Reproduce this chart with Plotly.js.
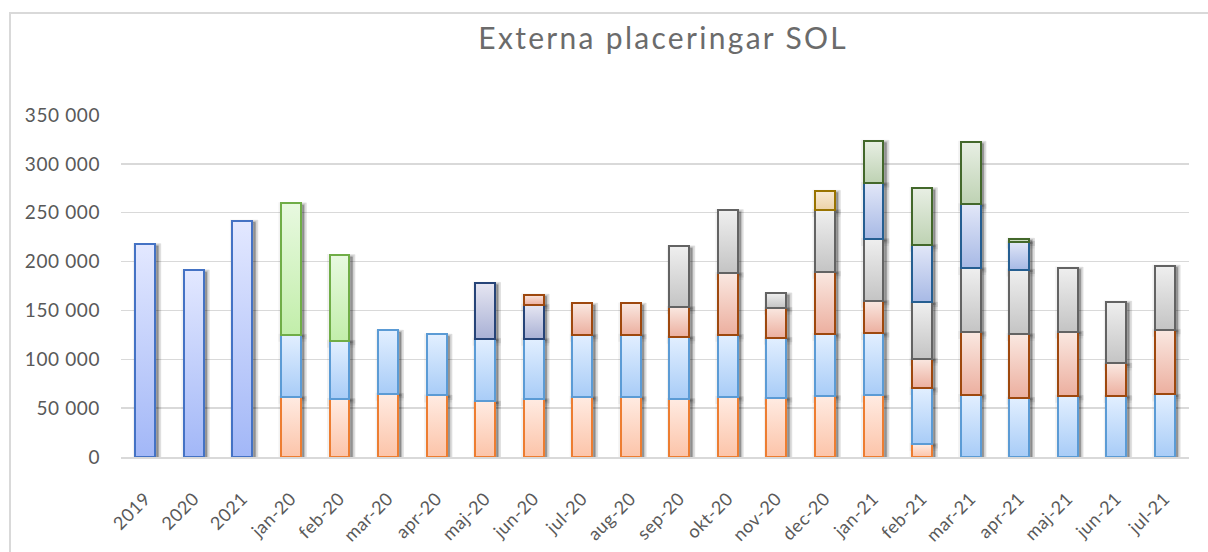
<!DOCTYPE html>
<html>
<head>
<meta charset="utf-8">
<script src="https://cdn.plot.ly/plotly-3.0.1.min.js"></script>
<style>
  html, body { margin: 0; padding: 0; background: #ffffff; overflow: hidden; }
  #chart { width: 1208px; height: 552px; position: absolute; left: 0; top: 0; }
  #frame { position: absolute; left: 9px; top: 12px; width: 1300px; height: 700px;
           border: 2px solid #d9d9d9; pointer-events: none; }
  #chart .gtitle { letter-spacing: 2.3px; }
  #chart .ytick text { letter-spacing: 0.6px; }
  #chart .xtick text { letter-spacing: 0.5px; }
</style>
</head>
<body>
<div id="chart"></div>
<div id="frame"></div>
<script>
// ---- data ----
const categories = ['2019','2020','2021','jan-20','feb-20','mar-20','apr-20','maj-20','jun-20','jul-20','aug-20','sep-20','okt-20','nov-20','dec-20','jan-21','feb-21','mar-21','apr-21','maj-21','jun-21','jul-21'];

const serie1  = [218000,191000,242000,null,null,null,null,null,null,null,null,null,null,null,null,null,null,null,null,null,null,null];
const serie2  = [null,null,null,61600,59300,64700,63000,56900,59300,61400,61400,59300,61400,60300,62400,63000,13300,null,null,null,null,null];
const serie3  = [null,null,null,63400,59600,64800,62400,64100,61700,63700,63700,63700,63600,61700,63400,63800,57300,63400,60600,62700,62400,64000];
const serie4  = [null,null,null,134700,87900,null,null,null,null,null,null,null,null,null,null,null,null,null,null,null,null,null];
const serie5  = [null,null,null,null,null,null,null,57200,34700,null,null,null,null,null,null,null,null,null,null,null,null,null];
const serie6  = [null,null,null,null,null,null,null,null,10600,32100,32100,30400,63400,30700,63700,33000,30000,64400,65200,65700,33300,66200];
const serie7  = [null,null,null,null,null,null,null,null,null,null,null,62300,64500,15000,63400,63400,57600,65500,66000,65500,63400,65700];
const serie8  = [null,null,null,null,null,null,null,null,null,null,null,null,null,null,19700,null,null,null,null,null,null,null];
const serie9  = [null,null,null,null,null,null,null,null,null,null,null,null,null,null,null,57300,59000,65400,28700,null,null,null];
const serie10 = [null,null,null,null,null,null,null,null,null,null,null,null,null,null,null,43200,58000,64000,3000,null,null,null];

const seriesNames = ['Serie 1','Serie 2','Serie 3','Serie 4','Serie 5','Serie 6','Serie 7','Serie 8','Serie 9','Serie 10'];
const seriesValues = [serie1,serie2,serie3,serie4,serie5,serie6,serie7,serie8,serie9,serie10];

// ---- styles ----
const lineColors = ['#4472C4','#ED7D31','#5B9BD5','#70AD47','#264478','#9E480E','#636363','#997300','#255E91','#43682B'];
const gradTop    = ['#E3E8FF','#FFEBE2','#E2EFFF','#E8F9E0','#E6E6F2','#FAE8E1','#EFEFEF','#F8EAD6','#E2E7F8','#E8EFE4'];
const gradBottom = ['#A2B7F7','#FCC4A9','#A8CCF7','#C2EEAA','#A9B1D5','#ECAF9F','#C4C4C4','#ECD2A7','#A7B9E5','#BED2B3'];
const midColors  = ['#C0CDFA','#FDD5C2','#C4DCFB','#D3F3C5','#C8CBE3','#F3CBC0','#DADADA','#F2DDBE','#C4D0EE','#D3E1CC'];

const FONT = 'Lato, "Open Sans", sans-serif';

const data = seriesValues.map((vals, i) => ({
  type: 'bar',
  name: seriesNames[i],
  x: categories,
  y: vals,
  marker: { color: midColors[i], line: { color: lineColors[i], width: 2 } },
  hoverinfo: 'x+y+name'
}));

const layout = {
  width: 1208,
  height: 552,
  barmode: 'stack',
  bargap: 0.59,
  showlegend: false,
  paper_bgcolor: '#ffffff',
  plot_bgcolor: '#ffffff',
  separators: ', ',
  margin: { l: 121, r: 19, t: 115, b: 95 },
  font: { family: FONT, color: '#595959', size: 18 },
  title: {
    text: 'Externa placeringar SOL',
    font: { family: FONT, size: 30, color: '#6b6b6b' },
    x: 0.549, xanchor: 'center',
    y: 0.931, yanchor: 'middle', xref: 'container', yref: 'container'
  },
  xaxis: {
    type: 'category',
    tickangle: -45,
    tickfont: { family: FONT, size: 18, color: '#595959' },
    showgrid: false,
    showline: true, linecolor: '#d9d9d9', linewidth: 2,
    ticks: '',
    ticklabelstandoff: 22,
    zeroline: false
  },
  yaxis: {
    range: [0, 350000],
    dtick: 50000,
    tickformat: ',d',
    tickfont: { family: FONT, size: 19, color: '#595959' },
    showgrid: true, gridcolor: '#d9d9d9', gridwidth: 1.3,
    zeroline: false,
    showline: false,
    ticks: '',
    ticklabelstandoff: 20
  }
};

Plotly.newPlot('chart', data, layout, { displayModeBar: false, staticPlot: true }).then(gd => {
  const svg = gd.querySelector('svg.main-svg');
  const defs = svg.querySelector('defs');
  const ns = 'http://www.w3.org/2000/svg';
  for (let i = 0; i < seriesValues.length; i++) {
    const lg = document.createElementNS(ns, 'linearGradient');
    lg.setAttribute('id', 'barGrad' + i);
    lg.setAttribute('x1', '0'); lg.setAttribute('y1', '0');
    lg.setAttribute('x2', '0'); lg.setAttribute('y2', '1');
    const s1 = document.createElementNS(ns, 'stop');
    s1.setAttribute('offset', '0'); s1.setAttribute('stop-color', gradTop[i]);
    const s2 = document.createElementNS(ns, 'stop');
    s2.setAttribute('offset', '1'); s2.setAttribute('stop-color', gradBottom[i]);
    lg.appendChild(s1); lg.appendChild(s2);
    defs.appendChild(lg);
  }

  const barlayer = gd.querySelector('.barlayer');
  const traces = Array.from(gd.querySelectorAll('.barlayer .trace'));
  // soft shadow layer behind all bars (clones of the library-drawn bar paths)
  const shadowG = document.createElementNS(ns, 'g');
  shadowG.setAttribute('class', 'bar-shadows');
  const layers = [
    { dx: 1.5, dy: 3, fill: 'rgba(0,0,0,0.05)', stroke: 'rgba(0,0,0,0.05)', sw: 8 },
    { dx: 3.5, dy: 2, fill: 'rgba(0,0,0,0.12)', stroke: 'rgba(0,0,0,0.09)', sw: 5 },
    { dx: 3, dy: 1.5, fill: 'rgba(0,0,0,0.18)', stroke: 'rgba(0,0,0,0.12)', sw: 2 }
  ];
  layers.forEach(L => {
    traces.forEach(g => {
      g.querySelectorAll('path').forEach(p => {
        const c = p.cloneNode(false);
        c.removeAttribute('style');
        c.setAttribute('fill', L.fill);
        c.setAttribute('stroke', L.stroke);
        c.setAttribute('stroke-width', L.sw);
        c.setAttribute('transform', 'translate(' + L.dx + ',' + L.dy + ')');
        shadowG.appendChild(c);
      });
    });
  });
  barlayer.insertBefore(shadowG, barlayer.firstChild);

  traces.forEach(g => {
    const d = g.__data__;
    const idx = d && d[0] && d[0].trace ? d[0].trace.index : null;
    if (idx === null) return;
    g.querySelectorAll('path').forEach(p => {
      p.style.fill = 'url(#barGrad' + idx + ')';
    });
  });
});
</script>
</body>
</html>
